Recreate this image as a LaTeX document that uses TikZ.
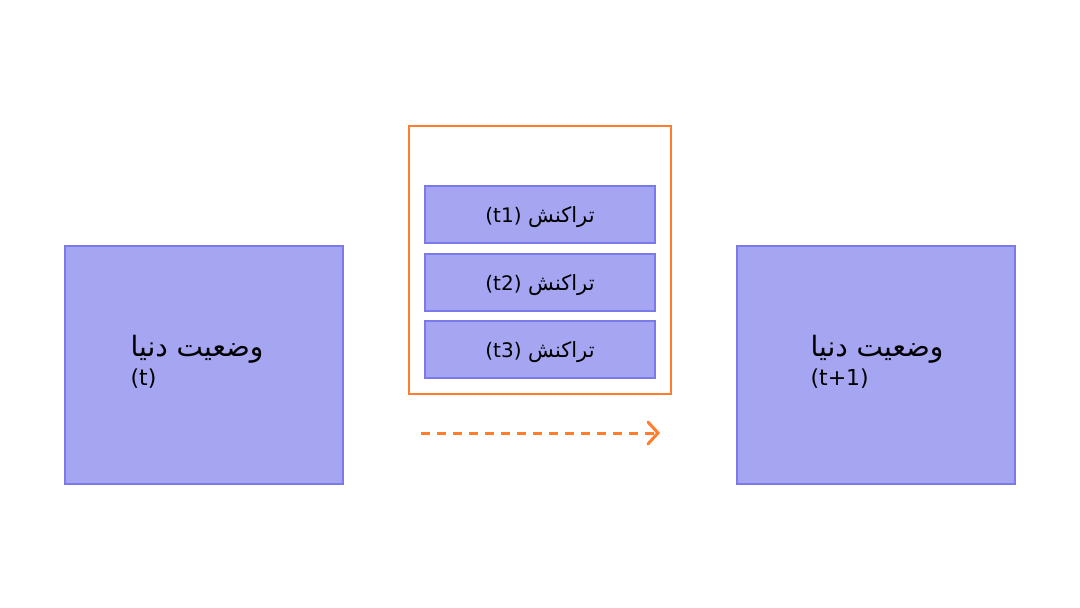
\documentclass[tikz,border=0pt]{standalone}
\usepackage{fontspec}
\setmainfont{DejaVu Sans}
\newfontfamily\arabicfont[Script=Arabic]{DejaVu Sans}
\TeXXeTstate=1
\usetikzlibrary{arrows.meta,positioning}

\definecolor{stateFill}{RGB}{165,165,242}
\definecolor{stateLine}{RGB}{122,122,234}
\definecolor{flowOrange}{RGB}{255,125,45}

% persian fonts for the two box kinds
\newcommand{\worldfa}{\arabicfont\fontsize{28}{29}\selectfont}
\newcommand{\txnfa}{\arabicfont\fontsize{21}{22}\selectfont}
\newcommand{\txnla}{\fontsize{20}{22}\selectfont}

\begin{document}
\begin{tikzpicture}[
    x=1pt, y=-1pt,
    world/.style={draw=stateLine, fill=stateFill, line width=1.5pt,
        minimum width=278pt, minimum height=238pt, align=left,
        font=\fontsize{22}{29}\selectfont},
    txn/.style={draw=stateLine, fill=stateFill, line width=1.5pt,
        minimum width=230pt, minimum height=57pt,
        font=\fontsize{20}{22}\selectfont},
    batch/.style={draw=flowOrange, line width=1.5pt},
    flow/.style={draw=flowOrange, line width=3pt, dash pattern=on 9pt off 7pt,
        -{Straight Barb[length=10pt, width=22pt, line width=3pt, line cap=round]}}
]

\useasboundingbox (0,0) rectangle (1080,608);

% world states
\node[world] (S0) at (204,365) {};
\node[align=left, font=\fontsize{22}{29}\selectfont] (S0txt) at (197,362)
    {{\worldfa\beginR وضعیت دنیا\endR}\\(t)};
\node[world] (S1) at (876,365) {};
\node[align=left, font=\fontsize{22}{29}\selectfont] (S1txt) at (877,362)
    {{\worldfa\beginR وضعیت دنیا\endR}\\(t+1)};

% transactions inside the block
\node[txn] (T1) at (540,214.5) {};
\node[txn, below=9.5pt of T1] (T2) {};
\node[txn, below=8.5pt of T2] (T3) {};
\node[yshift=-2.5pt] at (T1) {\txnfa\beginR تراکنش \beginL\txnla(t1)\endL\endR};
\node[yshift=-2.5pt] at (T2) {\txnfa\beginR تراکنش \beginL\txnla(t2)\endL\endR};
\node[yshift=-2.5pt] at (T3) {\txnfa\beginR تراکنش \beginL\txnla(t3)\endL\endR};

\draw[batch] (409,126) rectangle (671,394);

% state change
\coordinate (A) at (421,433);
\coordinate (B) at (660,433);
\draw[flow] (A) -- (B);

\end{tikzpicture}
\end{document}
